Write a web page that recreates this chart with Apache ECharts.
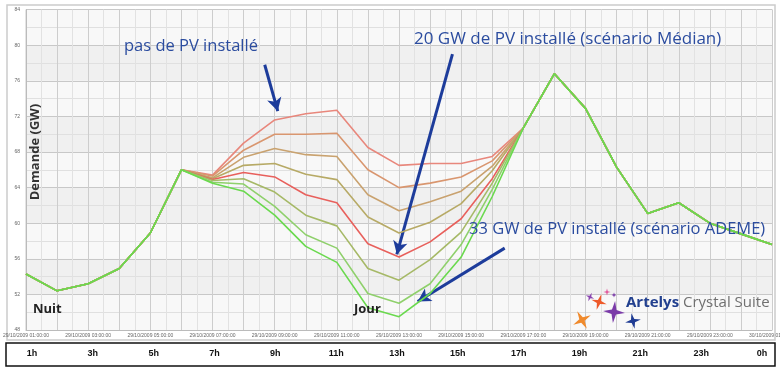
<!DOCTYPE html>
<html><head><meta charset="utf-8">
<script src="https://cdn.jsdelivr.net/npm/echarts@6/dist/echarts.min.js"></script>
<style>html,body{margin:0;padding:0;background:#fff}#c{width:780px;height:368px}</style>
</head><body><div id="c"></div>
<script>
// ---- data ----
const hourLabels = ['29/10/2009 01:00:00','29/10/2009 02:00:00','29/10/2009 03:00:00','29/10/2009 04:00:00','29/10/2009 05:00:00','29/10/2009 06:00:00','29/10/2009 07:00:00','29/10/2009 08:00:00','29/10/2009 09:00:00','29/10/2009 10:00:00','29/10/2009 11:00:00','29/10/2009 12:00:00','29/10/2009 13:00:00','29/10/2009 14:00:00','29/10/2009 15:00:00','29/10/2009 16:00:00','29/10/2009 17:00:00','29/10/2009 18:00:00','29/10/2009 19:00:00','29/10/2009 20:00:00','29/10/2009 21:00:00','29/10/2009 22:00:00','29/10/2009 23:00:00','30/10/2009 00:00:00','30/10/2009 01:00:00'];
const bottomLabels = ['1h','3h','5h','7h','9h','11h','13h','15h','17h','19h','21h','23h','0h'];
const yMin = 48, yMax = 84, yStep = 4;

const pv0  = [54.3,52.4,53.2,54.9,58.9,66.0, 65.4,69.0,71.6,72.3,72.7,68.5,66.5,66.7,66.7,67.5, 70.7,76.8,72.9,66.3,61.1,62.3,60.0,58.8,57.6];
const pvA  = [54.3,52.4,53.2,54.9,58.9,66.0, 65.3,68.2,70.0,70.0,70.1,66.0,64.0,64.5,65.2,67.0, 70.7,76.8,72.9,66.3,61.1,62.3,60.0,58.8,57.6];
const pvB  = [54.3,52.4,53.2,54.9,58.9,66.0, 65.1,67.4,68.4,67.7,67.5,63.2,61.4,62.4,63.6,66.4, 70.7,76.8,72.9,66.3,61.1,62.3,60.0,58.8,57.6];
const pvC  = [54.3,52.4,53.2,54.9,58.9,66.0, 65.0,66.5,66.7,65.5,64.9,60.7,58.9,60.1,62.2,65.9, 70.7,76.8,72.9,66.3,61.1,62.3,60.0,58.8,57.6];
const pv20 = [54.3,52.4,53.2,54.9,58.9,66.0, 64.9,65.7,65.2,63.2,62.3,57.7,56.2,57.9,60.5,65.0, 70.7,76.8,72.9,66.3,61.1,62.3,60.0,58.8,57.6];
const pvD  = [54.3,52.4,53.2,54.9,58.9,66.0, 64.8,65.0,63.5,60.9,59.7,54.9,53.6,55.9,59.0,64.5, 70.7,76.8,72.9,66.3,61.1,62.3,60.0,58.8,57.6];
const pvE  = [54.3,52.4,53.2,54.9,58.9,66.0, 64.6,64.4,61.9,58.7,57.2,52.1,51.0,53.2,57.6,63.8, 70.7,76.8,72.9,66.3,61.1,62.3,60.0,58.8,57.6];
const pv33 = [54.3,52.4,53.2,54.9,58.9,66.0, 64.5,63.6,60.9,57.4,55.6,50.5,49.5,52.1,56.2,63.0, 70.7,76.8,72.9,66.3,61.1,62.3,60.0,58.8,57.6];

const seriesNames = ['pas de PV installé','scénario 2','scénario 3','scénario 4','20 GW (scénario Médian)','scénario 6','scénario 7','33 GW (scénario ADEME)'];
const seriesData = [pv0,pvA,pvB,pvC,pv20,pvD,pvE,pv33];
const seriesColors = ['#e8877c','#d9966f','#c9a26f','#b7aa66','#e8605c','#a6b967','#8fd06c','#6ad94e'];

// ---- chart ----
const chart = echarts.init(document.getElementById('c'), null, {renderer:'canvas'});
const blue = '#2b4c9f', arrowBlue = '#1d3c9b';

function star4(cx, cy, r, ri, rot) {
  const pts = [];
  for (let i = 0; i < 8; i++) {
    const a = rot + i * Math.PI / 4;
    const rr = i % 2 === 0 ? r : ri;
    pts.push([cx + rr * Math.cos(a), cy + rr * Math.sin(a)]);
  }
  return pts;
}

const series = seriesData.map((arr, k) => ({
  name: seriesNames[k], type: 'line', xAxisIndex: 0, yAxisIndex: 0,
  data: arr.map((v, i) => [i, v]), symbol: 'none', silent: true,
  lineStyle: {color: seriesColors[k], width: 1.6}, z: 2 + k
}));
series[series.length - 1].markLine = {
  silent: true, animation: false, symbol: ['none','arrow'], symbolSize: [11, 13],
  label: {show: false},
  lineStyle: {color: arrowBlue, width: 3, type: 'solid'},
  data: [
    [{coord: [7.68, 77.8]}, {coord: [8.1, 72.6]}],
    [{coord: [13.72, 79.0]}, {coord: [11.93, 56.5]}],
    [{coord: [15.4, 57.2]}, {coord: [12.6, 51.2]}]
  ]
};
series.push({type: 'line', xAxisIndex: 1, yAxisIndex: 1, data: [], silent: true});

const graphics = [
  {type:'rect', shape:{x:7, y:5, width:768, height:335}, style:{fill:'none', stroke:'#cccccc', lineWidth:1.5}, z:-1},
  {type:'rect', shape:{x:6, y:343, width:769, height:23}, style:{fill:'none', stroke:'#111', lineWidth:1.5}},
  {type:'text', left:124, top:38, style:{text:'pas de PV installé', fontSize:16.5, fontFamily:'Open Sans', fill:blue}, z:20},
  {type:'text', left:414, top:31, style:{text:'20 GW de PV installé (scénario Médian)', fontSize:17, fontFamily:'Open Sans', fill:blue}, z:20},
  {type:'text', left:469, top:221, style:{text:'33 GW de PV installé (scénario ADEME)', fontSize:16.5, fontFamily:'Open Sans', fill:blue}, z:20},
  {type:'text', left:33, top:303, style:{text:'Nuit', fontSize:13, fontWeight:'bold', fontFamily:'Open Sans', fill:'#222'}, z:20},
  {type:'text', left:354, top:303, style:{text:'Jour', fontSize:13, fontWeight:'bold', fontFamily:'Open Sans', fill:'#222'}, z:20},
  {type:'text', x:35, y:152, rotation:Math.PI/2, style:{text:'Demande (GW)', fontSize:13, fontWeight:'bold', fontFamily:'Open Sans', fill:'#333', align:'center', verticalAlign:'middle'}, z:20},
  {type:'text', left:626, top:295, style:{text:'{a|Artelys}{b| Crystal Suite}', rich:{a:{fontSize:15, fontWeight:'bold', fontFamily:'Open Sans', fill:'#22408f', color:'#22408f'}, b:{fontSize:15, fontFamily:'Open Sans', fill:'#707070', color:'#707070'}}}, z:20},
  {type:'polygon', shape:{points:star4(582,320,10,2.8,-0.5)}, style:{fill:'#f08a2c'}, z:20},
  {type:'polygon', shape:{points:star4(599,302,8,2.4,0.3)}, style:{fill:'#ee5a2a'}, z:20},
  {type:'polygon', shape:{points:star4(614,312,11,3.2,0.1)}, style:{fill:'#7a3aa8'}, z:20},
  {type:'polygon', shape:{points:star4(633,321,8,2.4,-0.2)}, style:{fill:'#1f3c94'}, z:20},
  {type:'polygon', shape:{points:star4(590,297,4.5,1.4,0.4)}, style:{fill:'#8a45b0'}, z:20},
  {type:'polygon', shape:{points:star4(607,292,3.5,1.1,0)}, style:{fill:'#e0559a'}, z:20},
  {type:'polygon', shape:{points:star4(614,295,2.5,0.9,0)}, style:{fill:'#7a3aa8'}, z:20}
];

chart.setOption({
  animation: false,
  backgroundColor: '#ffffff',
  grid: [
    {left: 26, right: 8, top: 9.6, bottom: 38, show: true, backgroundColor: '#f5f5f5', borderColor: '#c9c9c9', borderWidth: 1, containLabel: false, outerBoundsMode: 'none'},
    {left: 32, right: 18, top: 348, height: 1, containLabel: false, outerBoundsMode: 'none'}
  ],
  xAxis: [
    {type: 'value', gridIndex: 0, min: 0, max: 24, interval: 1,
     axisLine: {show: true, lineStyle: {color: '#bbb'}}, axisTick: {show: false},
     axisLabel: {fontSize: 5, color: '#666', margin: 3, showMinLabel: true, showMaxLabel: true,
       formatter: v => (v % 2 === 0 ? hourLabels[v] : '')},
     splitLine: {show: true, lineStyle: {color: '#cdcdcd', width: 1}},
     minorTick: {show: false, splitNumber: 2},
     minorSplitLine: {show: true, lineStyle: {color: '#e2e2e2', width: 1}}},
    {type: 'value', gridIndex: 1, min: 0, max: 24, interval: 2,
     axisLine: {show: false}, axisTick: {show: false}, splitLine: {show: false},
     axisLabel: {fontSize: 9, fontWeight: 'bold', fontFamily: 'Liberation Sans Narrow, Liberation Sans', color: '#111', margin: 0,
       formatter: v => bottomLabels[v / 2]}}
  ],
  yAxis: [
    {type: 'value', gridIndex: 0, min: yMin, max: yMax, interval: yStep,
     axisLine: {show: true, lineStyle: {color: '#bbb'}}, axisTick: {show: false},
     axisLabel: {fontSize: 5, color: '#666', margin: 6},
     splitLine: {show: true, lineStyle: {color: '#c8c8c8', width: 1}},
     minorTick: {show: false, splitNumber: 2},
     minorSplitLine: {show: true, lineStyle: {color: '#e0e0e0', width: 1}},
     splitArea: {show: true, areaStyle: {color: ['#f8f8f8', '#f0f0f0']}}},
    {type: 'value', gridIndex: 1, show: false}
  ],
  series: series,
  graphic: graphics
});
</script>
</body></html>
